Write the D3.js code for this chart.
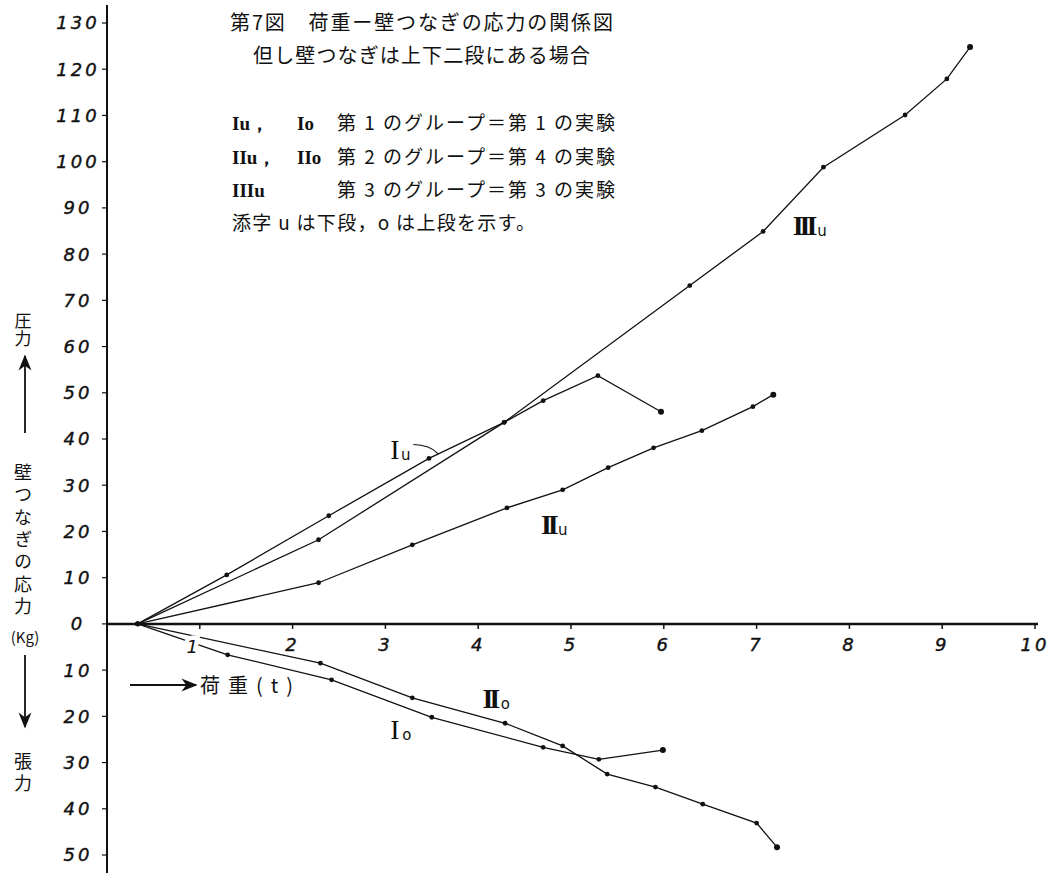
<!DOCTYPE html>
<html>
<head>
<meta charset="utf-8">
<script src="https://cdn.jsdelivr.net/npm/d3@7"></script>
<style>
  body { margin: 0; background: #fff; }
  svg { display: block; }
  .num { font-family: "DejaVu Sans", sans-serif; font-style: italic; font-size: 18px; letter-spacing: 3px; fill: #111; }
  .jp { font-family: "Noto Sans CJK JP", sans-serif; fill: #111; }
  .rom { font-family: "Liberation Serif", serif; font-weight: bold; fill: #111; }
  .curve { fill: none; stroke: #111; stroke-width: 1.3px; }
</style>
</head>
<body>
<script>
// load (t) against stress in the wall ties (kg); tension is negative
var loadIu = [0.33, 1.29, 2.39, 3.47, 4.28, 4.70, 5.29, 5.97];
var stressIu = [0, 10.6, 23.4, 35.8, 43.6, 48.3, 53.7, 45.9];

var loadIIu = [0.33, 2.28, 3.29, 4.31, 4.91, 5.40, 5.89, 6.41, 6.96, 7.18];
var stressIIu = [0, 8.9, 17.1, 25.1, 29.0, 33.8, 38.1, 41.8, 47.0, 49.6];

var loadIIIu = [0.33, 2.28, 4.28, 6.28, 7.07, 7.72, 8.60, 9.05, 9.30];
var stressIIIu = [0, 18.2, 43.6, 73.2, 84.9, 98.8, 110.1, 117.9, 124.8];

var loadIo = [0.33, 1.30, 2.42, 3.50, 4.70, 5.30, 5.99];
var stressIo = [0, -6.7, -12.1, -20.2, -26.7, -29.3, -27.3];

var loadIIo = [0.33, 2.30, 3.29, 4.29, 4.91, 5.39, 5.91, 6.42, 7.00, 7.22];
var stressIIo = [0, -8.5, -16.0, -21.5, -26.4, -32.5, -35.3, -39.0, -43.1, -48.3];

var xTicks = [1, 2, 3, 4, 5, 6, 7, 8, 9, 10];
var yTicks = [-50, -40, -30, -20, -10, 0, 10, 20, 30, 40, 50, 60, 70, 80, 90, 100, 110, 120, 130];

var titleLines = ["第7図　荷重ー壁つなぎの応力の関係図", "但し壁つなぎは上下二段にある場合"];
var legendKeys = [["Iu，", "Io"], ["IIu，", "IIo"], ["IIIu", ""]];
var legendTexts = ["第 1 のグループ＝第 1 の実験", "第 2 のグループ＝第 4 の実験", "第 3 のグループ＝第 3 の実験"];
var legendNote = "添字 u は下段，o は上段を示す。";

var width = 1057, height = 873;
var x = d3.scaleLinear().domain([0, 10]).range([107, 1035]);
var y = d3.scaleLinear().domain([-50, 130]).range([855, 23]);

var svg = d3.select("body").append("svg")
    .attr("width", width)
    .attr("height", height);

var defs = svg.append("defs");
defs.append("marker")
    .attr("id", "head")
    .attr("viewBox", "0 0 10 10")
    .attr("refX", 9).attr("refY", 5)
    .attr("markerWidth", 9).attr("markerHeight", 9)
    .attr("orient", "auto")
  .append("path")
    .attr("d", "M0,1 L10,5 L0,9 L3,5 Z")
    .attr("fill", "#111");

// axes
svg.append("line")
    .attr("x1", x(0)).attr("x2", x(0))
    .attr("y1", 5).attr("y2", height)
    .attr("stroke", "#111").attr("stroke-width", 2);
svg.append("line")
    .attr("x1", x(0)).attr("x2", x(10) + 3)
    .attr("y1", y(0)).attr("y2", y(0))
    .attr("stroke", "#111").attr("stroke-width", 2.5);

svg.selectAll("line.xt").data(xTicks).enter().append("line")
    .attr("class", "xt")
    .attr("x1", function(d) { return x(d); }).attr("x2", function(d) { return x(d); })
    .attr("y1", y(0)).attr("y2", y(0) + 5)
    .attr("stroke", "#111").attr("stroke-width", 1.5);

svg.selectAll("line.yt").data(yTicks).enter().append("line")
    .attr("class", "yt")
    .attr("x1", x(0) - 5).attr("x2", x(0))
    .attr("y1", function(d) { return y(d); }).attr("y2", function(d) { return y(d); })
    .attr("stroke", "#111").attr("stroke-width", 1.2);

svg.selectAll("text.yl").data(yTicks).enter().append("text")
    .attr("class", "yl num")
    .attr("x", 78)
    .attr("y", function(d) { return y(d); })
    .attr("dy", "0.36em")
    .attr("text-anchor", "middle")
    .attr("stroke", "#111").attr("stroke-width", 0.4)
    .text(function(d) { return Math.abs(d); });

// curves
var line = d3.line()
    .x(function(d) { return x(d[0]); })
    .y(function(d) { return y(d[1]); });

var series = [
    [loadIu, stressIu],
    [loadIIu, stressIIu],
    [loadIIIu, stressIIIu],
    [loadIo, stressIo],
    [loadIIo, stressIIo]
];

series.forEach(function(s) {
    var pts = d3.zip(s[0], s[1]);
    svg.append("path").datum(pts).attr("class", "curve").attr("d", line);
    svg.selectAll(null).data(pts).enter().append("circle")
        .attr("cx", function(d) { return x(d[0]); })
        .attr("cy", function(d) { return y(d[1]); })
        .attr("r", function(d, i) { return i === pts.length - 1 ? 3 : 2.4; })
        .attr("fill", "#111");
});

// x tick labels, the "1" sits on the lower curves and breaks them
svg.selectAll("text.xl").data(xTicks).enter().append("text")
    .attr("class", "xl num")
    .attr("x", function(d) { return x(d) + (d === 1 ? -6 : 0); })
    .attr("y", function(d) { return d === 1 ? 653 : 651; })
    .attr("text-anchor", "middle")
    .attr("stroke", function(d) { return d === 1 ? "#fff" : "#111"; })
    .attr("stroke-width", function(d) { return d === 1 ? 9 : 0.4; })
    .attr("paint-order", "stroke")
    .text(function(d) { return d; });

// curve labels
var curveLabels = [
    { rom: "I", sub: "u", t: 3.08, v: 35.7, dx: 13, bold: false },
    { rom: "II", sub: "u", t: 4.75, v: 19.5, dx: 15, bold: true },
    { rom: "III", sub: "u", t: 7.50, v: 84.1, dx: 19, bold: true },
    { rom: "I", sub: "o", t: 3.08, v: -24.9, dx: 14, bold: false },
    { rom: "II", sub: "o", t: 4.12, v: -18.2, dx: 16, bold: true }
];
curveLabels.forEach(function(l) {
    svg.append("text")
        .attr("x", x(l.t)).attr("y", y(l.v))
        .attr("text-anchor", "middle")
        .attr("font-family", "Liberation Serif, serif")
        .attr("font-weight", l.bold ? "bold" : "normal")
        .attr("font-size", 28)
        .attr("letter-spacing", -4)
        .attr("fill", "#111")
        .text(l.rom);
    svg.append("text")
        .attr("x", x(l.t) + l.dx).attr("y", y(l.v) + 1)
        .attr("text-anchor", "middle")
        .attr("font-family", "DejaVu Sans, sans-serif")
        .attr("font-size", 15)
        .attr("fill", "#111")
        .text(l.sub);
});

// leader from the Iu label to its curve
svg.append("path")
    .attr("d", "M" + x(3.30) + "," + y(38.8) + " Q" + x(3.48) + "," + y(38.7) + " " + x(3.57) + "," + y(36.8))
    .attr("fill", "none").attr("stroke", "#111").attr("stroke-width", 1.1);

// title
svg.append("text").attr("class", "jp")
    .attr("x", 230).attr("y", 30)
    .attr("font-size", 20)
    .attr("textLength", 383).attr("lengthAdjust", "spacing")
    .text(titleLines[0]);
svg.append("text").attr("class", "jp")
    .attr("x", 253).attr("y", 63)
    .attr("font-size", 20)
    .attr("textLength", 337).attr("lengthAdjust", "spacing")
    .text(titleLines[1]);

// legend
legendKeys.forEach(function(k, i) {
    var by = 130 + i * 33.5;
    svg.append("text").attr("class", "rom")
        .attr("x", 232).attr("y", by)
        .attr("font-size", 19)
        .text(k[0]);
    if (k[1]) {
        svg.append("text").attr("class", "rom")
            .attr("x", 297).attr("y", by)
            .attr("font-size", 19)
            .text(k[1]);
    }
    svg.append("text").attr("class", "jp")
        .attr("x", 337).attr("y", by)
        .attr("font-size", 19)
        .attr("textLength", 278).attr("lengthAdjust", "spacing")
        .text(legendTexts[i]);
});
svg.append("text").attr("class", "jp")
    .attr("x", 232).attr("y", 230)
    .attr("font-size", 19)
    .attr("textLength", 303).attr("lengthAdjust", "spacing")
    .text(legendNote);

// x axis title
svg.append("line")
    .attr("x1", 130).attr("x2", 196)
    .attr("y1", 685).attr("y2", 685)
    .attr("stroke", "#111").attr("stroke-width", 1.8)
    .attr("marker-end", "url(#head)");
svg.append("text").attr("class", "jp")
    .attr("x", 200).attr("y", 693)
    .attr("font-size", 20)
    .attr("textLength", 93).attr("lengthAdjust", "spacing")
    .text("荷重(t)");

// y axis title, written top to bottom in columns
var yTitle = [
    { s: "圧力", top: 312, size: 17, gap: 1 },
    { s: "壁つなぎの応力", top: 463, size: 18, gap: 4.4 },
    { s: "張力", top: 752, size: 18, gap: 4 }
];
yTitle.forEach(function(d) {
    svg.append("text").attr("class", "jp")
        .attr("x", 23).attr("y", d.top)
        .attr("writing-mode", "vertical-rl")
        .attr("font-size", d.size)
        .attr("letter-spacing", d.gap)
        .text(d.s);
});
svg.append("text").attr("class", "jp")
    .attr("x", 25).attr("y", 643)
    .attr("text-anchor", "middle")
    .attr("font-size", 15)
    .text("(Kg)");

svg.append("line")
    .attr("x1", 25).attr("x2", 25)
    .attr("y1", 433).attr("y2", 356)
    .attr("stroke", "#111").attr("stroke-width", 1.8)
    .attr("marker-end", "url(#head)");
svg.append("line")
    .attr("x1", 25).attr("x2", 25)
    .attr("y1", 655).attr("y2", 727)
    .attr("stroke", "#111").attr("stroke-width", 1.8)
    .attr("marker-end", "url(#head)");
</script>
</body>
</html>
